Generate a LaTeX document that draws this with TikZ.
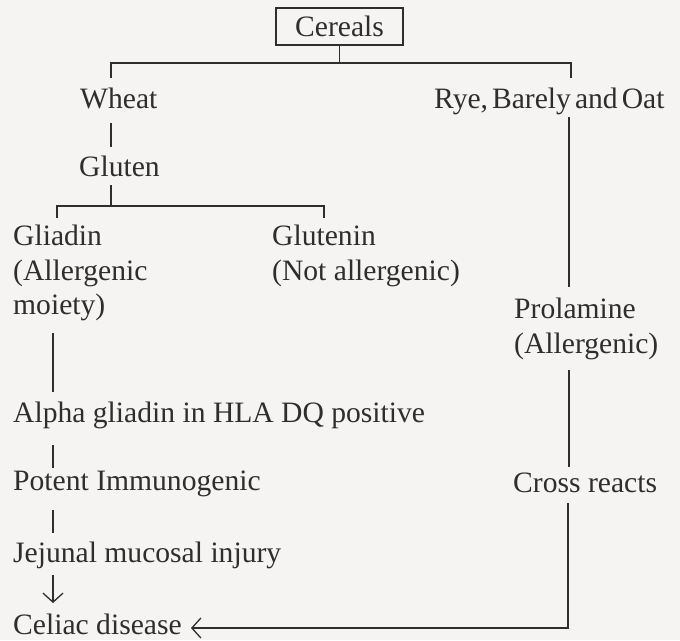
\documentclass[tikz,border=0pt]{standalone}
\usepackage{fontspec}
\setmainfont{Liberation Serif}
\usetikzlibrary{arrows.meta}
\definecolor{ink}{HTML}{2E2E2E}
\definecolor{paper}{HTML}{F6F4F2}
\begin{document}
\begin{tikzpicture}[x=1pt,y=-1pt,
  txt/.style={anchor=base west,inner sep=0pt,text=ink,font=\fontsize{29.6}{35}\selectfont},
  conn/.style={draw=ink,line width=1.7pt},
  tip/.style={-{Straight Barb[length=9pt,width=20pt,line width=1.3pt]}}]
\fill[paper] (0,0) rectangle (680,640);
\useasboundingbox (0,0) rectangle (680,640);
% nodes
\node[draw=ink,line width=1.7pt,inner sep=0pt,minimum width=127pt,minimum height=37pt,
      text=ink,font=\fontsize{29.6}{35}\selectfont] (cer) at (339.5,26.5) {Cereals};
\node[txt] (wheat) at (80,108) {Wheat};
\node[txt] (rye) at (434,108) {\spaceskip=4pt Rye, Barely and Oat};
\node[txt] (gluten) at (79,176) {Gluten};
\node[txt] (gli1) at (13,245) {Gliadin};
\node[txt] (gli2) at (13,280) {(Allergenic};
\node[txt] (gli3) at (13,314) {moiety)};
\node[txt] (glu1) at (272,245) {Glutenin};
\node[txt] (glu2) at (272,280) {(Not allergenic)};
\node[txt] (pro1) at (514,318) {Prolamine};
\node[txt] (pro2) at (514,353) {(Allergenic)};
\node[txt] (cross) at (513,492) {Cross reacts};
\node[txt] (alpha) at (13,422) {Alpha gliadin in HLA DQ positive};
\node[txt] (potent) at (13,490) {Potent Immunogenic};
\node[txt] (jej) at (13,562) {Jejunal mucosal injury};
\node[txt] (celiac) at (13,634) {Celiac disease};
% junction coordinates
\coordinate (cerJ) at (cer.south |- 0,63);
\coordinate (wTop) at (111,78);
\coordinate (rTop) at (571,78);
\coordinate (wBot) at (111,123);
\coordinate (gTop) at (111,147);
\coordinate (gBot) at (111,185);
\coordinate (gJ) at (111,206);
\coordinate (gliTop) at (57,218);
\coordinate (gluTop) at (324,218);
\coordinate (rBot) at (569,117);
\coordinate (pTop) at (569,287);
\coordinate (pBot) at (569,370);
\coordinate (cTop) at (569,467);
\coordinate (cBot) at (568,503);
\coordinate (corner) at (568,628);
\coordinate (celR) at (191,628);
\coordinate (mBot) at (53,333);
\coordinate (aTop) at (53,392);
\coordinate (aBot) at (53,445);
\coordinate (poTop) at (53,468);
\coordinate (poBot) at (53,510);
\coordinate (jTop) at (53,533);
\coordinate (jBot) at (53,575);
\coordinate (ceTop) at (53,603);
% connectors
\draw[conn] (cer.south) -- (cerJ);
\draw[conn] (wTop) -- (wTop |- cerJ) -- (rTop |- cerJ) -- (rTop);
\draw[conn] (wBot) -- (gTop);
\draw[conn] (gBot) -- (gJ);
\draw[conn] (gliTop) -- (gliTop |- gJ) -- (gluTop |- gJ) -- (gluTop);
\draw[conn] (rBot) -- (pTop);
\draw[conn] (pBot) -- (cTop);
\draw[conn,tip] (cBot) -- (corner) -- (celR);
\draw[conn] (mBot) -- (aTop);
\draw[conn] (aBot) -- (poTop);
\draw[conn] (poBot) -- (jTop);
\draw[conn,tip] (jBot) -- (ceTop);
\end{tikzpicture}
\end{document}
